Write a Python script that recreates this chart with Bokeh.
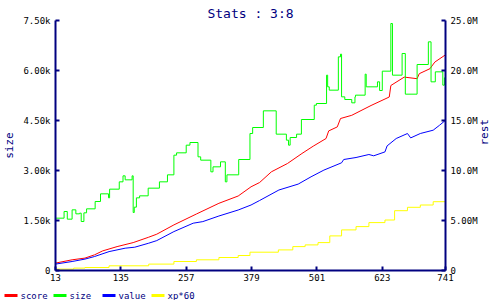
import math
from bokeh.plotting import figure
from bokeh.models import Range1d, LinearAxis, FixedTicker
from bokeh.layouts import column, row
from bokeh.core.properties import value
from bokeh.embed import file_html
from bokeh.resources import INLINE

# ---- data ----
x_ticks = [13, 135, 257, 379, 501, 623, 741]
left_ticks = [0, 1.5, 3.0, 4.5, 6.0, 7.5]
left_labels = ["0", "1.50k", "3.00k", "4.50k", "6.00k", "7.50k"]
right_ticks = [0, 5, 10, 15, 20, 25]
right_labels = ["0", "5.00M", "10.0M", "15.0M", "20.0M", "25.0M"]

size_x = [13, 29, 35, 44, 51, 58, 61, 66, 71, 87, 97, 112, 114, 132, 139, 143, 156, 158, 160, 164,
          170, 186, 207, 222, 234, 239, 257, 264, 279, 284, 303, 307, 321, 330, 333, 355, 376, 381, 401, 425,
          444, 448, 451, 463, 472, 496, 500, 519, 521, 524, 541, 545, 547, 553, 566, 572, 573, 591, 593, 614,
          618, 623, 639, 642, 660, 666, 688, 709, 714, 722, 736, 739, 741]
size_k = [1.57, 1.77, 1.54, 1.82, 1.70, 1.72, 1.47, 1.73, 1.85, 2.07, 2.30, 2.18, 2.44, 2.66, 2.84, 2.72, 2.84, 1.74, 1.90, 2.18,
          2.24, 2.47, 2.66, 2.87, 3.46, 3.53, 3.76, 3.84, 3.41, 3.31, 2.96, 3.11, 3.26, 2.66, 2.87, 3.33, 4.11, 4.29, 4.79, 4.09,
          3.91, 3.76, 3.99, 4.09, 4.53, 4.96, 5.01, 5.86, 5.51, 5.41, 6.41, 6.49, 5.21, 5.13, 5.03, 5.21, 5.26, 5.89, 5.51, 5.66,
          5.40, 5.98, 7.41, 5.86, 6.51, 5.29, 6.18, 6.86, 5.66, 5.96, 5.56, 5.78, 5.78]

score_x = [13, 44, 68, 86, 101, 128, 158, 187, 202, 234, 276, 318, 354, 378, 394, 416, 446, 473, 494, 518,
           523, 539, 545, 566, 602, 636, 639, 664, 688, 692, 712, 721, 741]
score_m = [0.74, 1.07, 1.24, 1.57, 1.96, 2.39, 2.79, 3.33, 3.63, 4.56, 5.65, 6.72, 7.45, 8.37, 8.80, 9.87, 10.7, 11.7, 12.43, 13.2,
           13.96, 14.36, 15.2, 15.52, 16.5, 17.35, 18.5, 19.34, 19.18, 19.68, 20.18, 20.84, 21.57]

value_x = [13, 44, 68, 86, 113, 143, 161, 187, 202, 234, 270, 288, 318, 354, 378, 394, 430, 466, 490, 514,
           547, 551, 574, 598, 607, 628, 632, 649, 670, 676, 694, 718, 730, 739, 741]
value_m = [0.64, 0.90, 1.14, 1.40, 1.89, 2.23, 2.33, 2.73, 2.99, 3.89, 4.73, 4.89, 5.45, 6.05, 6.55, 7.0, 8.05, 8.64, 9.37, 10.04,
           10.77, 11.1, 11.3, 11.6, 11.47, 11.86, 12.46, 13.2, 13.7, 13.26, 13.7, 14.03, 14.53, 14.93, 15.0]

xp_x = [13, 47, 68, 113, 187, 234, 276, 318, 354, 376, 429, 456, 479, 503, 525, 547, 574, 598, 628, 646,
        670, 694, 718, 741]
xp60_m = [0.14, 0.24, 0.30, 0.47, 0.64, 0.90, 1.07, 1.30, 1.50, 1.83, 2.06, 2.39, 2.56, 2.79, 3.46, 4.06, 4.39, 4.79, 5.05, 5.98,
          6.32, 6.55, 6.88, 7.22]

legend_names = ["score", "size", "value", "xp*60"]
legend_colors = ["#ff0000", "#00ff00", "#0000ff", "#ffff00"]

NAVY = "#000080"
MONO = "DejaVu Sans Mono"

p = figure(width=500, height=284, output_backend="svg", toolbar_location=None,
           x_range=Range1d(13, 741), y_range=Range1d(0, 7.5),
           min_border_left=47, min_border_right=47, min_border_top=20, min_border_bottom=14)
p.extra_y_ranges = {"rest": Range1d(0, 25)}
p.outline_line_color = None
p.xgrid.visible = False
p.ygrid.visible = False
p.background_fill_color = "white"
p.border_fill_color = "white"

p.title.text = "Stats : 3:8"
p.title.align = "center"
p.title.text_font = MONO
p.title.text_font_size = "13px"
p.title.text_font_style = "normal"
p.title.text_color = NAVY
p.title.standoff = 0
p.title.offset = 0

right_axis = LinearAxis(y_range_name="rest")
p.add_layout(right_axis, "right")

for ax in [p.xaxis[0], p.yaxis[0], right_axis]:
    ax.axis_line_color = NAVY
    ax.axis_line_width = 2
    ax.major_tick_line_color = NAVY
    ax.major_tick_line_width = 2
    ax.major_tick_in = 4
    ax.major_tick_out = 0
    ax.minor_tick_line_color = None
    ax.major_label_text_font = MONO
    ax.major_label_text_font_size = "9px"
    ax.major_label_text_color = "black"
    ax.major_label_standoff = 5
    ax.axis_label_text_font = MONO
    ax.axis_label_text_font_size = "11px"
    ax.axis_label_text_font_style = "normal"
    ax.axis_label_text_color = NAVY
    ax.axis_label_standoff = 4

p.xaxis[0].ticker = FixedTicker(ticks=x_ticks)
p.xaxis[0].major_label_standoff = 3
p.yaxis[0].ticker = FixedTicker(ticks=left_ticks)
p.yaxis[0].major_label_overrides = dict(zip(left_ticks, left_labels))
p.yaxis[0].axis_label = "size"
right_axis.ticker = FixedTicker(ticks=right_ticks)
right_axis.major_label_overrides = dict(zip(right_ticks, right_labels))
right_axis.axis_label = "rest"
if "axis_label_orientation" in right_axis.properties():
    right_axis.axis_label_orientation = math.pi / 2

p.line(score_x, score_m, line_color="#ff0000", line_width=1, y_range_name="rest")
p.step(size_x, size_k, line_color="#00ff00", line_width=1, mode="after")
p.line(value_x, value_m, line_color="#0000ff", line_width=1, y_range_name="rest")
p.step(xp_x, xp60_m, line_color="#ffff00", line_width=1, mode="after", y_range_name="rest")

# ---- legend strip (separate figure below the chart) ----
leg = figure(width=500, height=16, output_backend="svg", toolbar_location=None,
             x_range=Range1d(0, 500), y_range=Range1d(0, 16), min_border=0)
leg.axis.visible = False
leg.grid.visible = False
leg.outline_line_color = None
leg.background_fill_color = "white"
leg.border_fill_color = "white"
stride = 49
gx0 = [4 + i * stride for i in range(len(legend_names))]
gx1 = [g + 13 for g in gx0]
tx = [g + 16 for g in gx0]
gy = [5] * len(legend_names)
leg.segment(x0=gx0, y0=gy, x1=gx1, y1=gy, line_color=legend_colors, line_width=3)
leg.text(x=tx, y=gy, text=legend_names, text_font=value(MONO), text_font_size="9px",
         text_color=NAVY, text_baseline="middle", text_align="left")

layout = column(row(p), row(leg), spacing=0)
open("out.html", "w").write(file_html(layout, INLINE))
